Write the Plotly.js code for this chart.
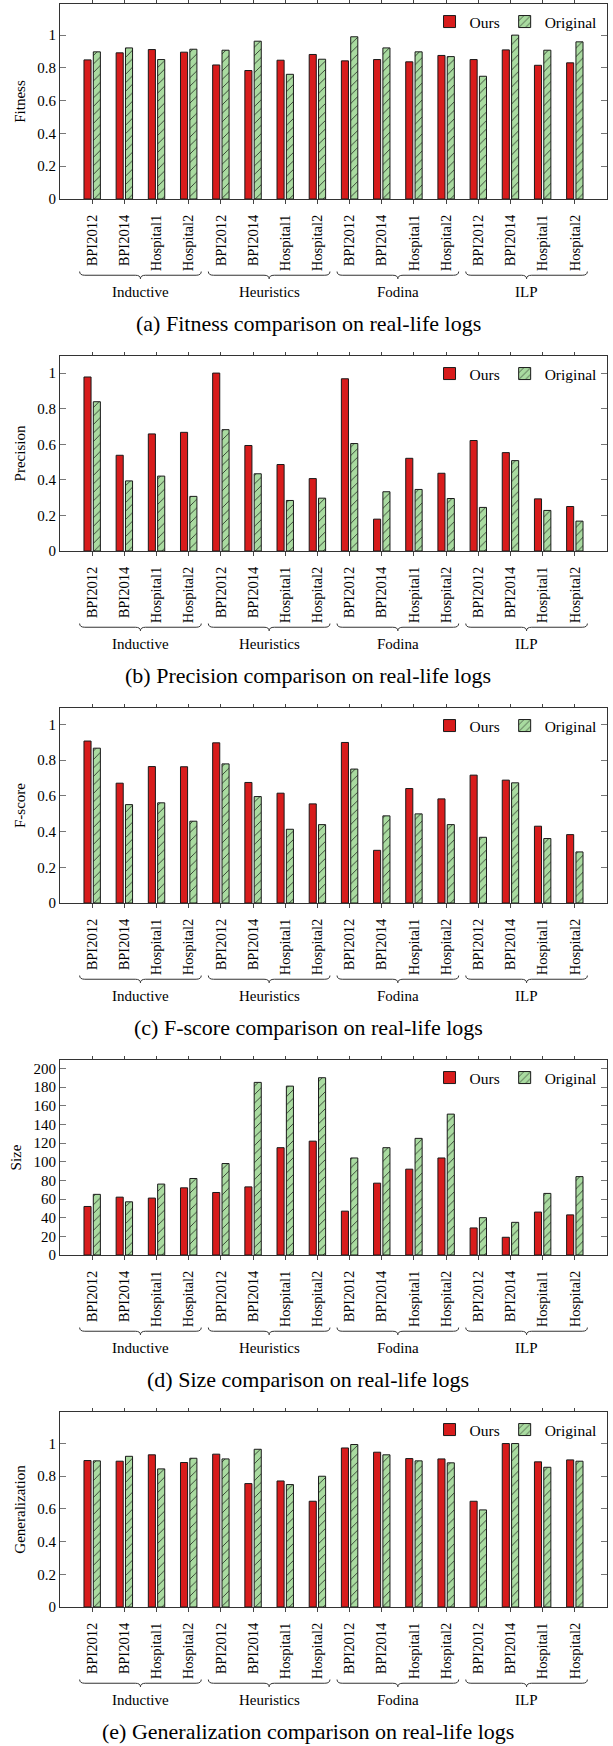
<!DOCTYPE html>
<html><head><meta charset="utf-8">
<script src="https://cdn.plot.ly/plotly-3.0.1.min.js"></script>
<style>
html,body{margin:0;padding:0;width:613px;height:1746px;overflow:hidden;background:#fff}
.p{position:absolute;left:0;width:613px;height:352px}
</style></head>
<body>
<div id="p0" class="p" style="top:0px"></div>
<div id="p1" class="p" style="top:352px"></div>
<div id="p2" class="p" style="top:704px"></div>
<div id="p3" class="p" style="top:1056px"></div>
<div id="p4" class="p" style="top:1408px"></div>
<script>
const groups = ['Inductive', 'Heuristics', 'Fodina', 'ILP'];
const logs = ['BPI2012', 'BPI2014', 'Hospital1', 'Hospital2'];
const seriesNames = ['Ours', 'Original'];

const fitnessOurs     = [0.849, 0.892, 0.912, 0.896,  0.818, 0.784, 0.847, 0.882,  0.843, 0.851, 0.837, 0.876,  0.851, 0.910, 0.816, 0.831];
const fitnessOriginal = [0.898, 0.922, 0.851, 0.914,  0.908, 0.963, 0.761, 0.853,  0.990, 0.922, 0.898, 0.869,  0.749, 1.000, 0.908, 0.959];

const precisionOurs     = [0.978, 0.538, 0.658, 0.667,  1.000, 0.593, 0.486, 0.407,  0.968, 0.179, 0.521, 0.437,  0.621, 0.553, 0.293, 0.250];
const precisionOriginal = [0.839, 0.394, 0.421, 0.307,  0.682, 0.434, 0.284, 0.297,  0.604, 0.333, 0.346, 0.295,  0.245, 0.508, 0.228, 0.168];

const fscoreOurs     = [0.907, 0.671, 0.764, 0.763,  0.897, 0.675, 0.615, 0.555,  0.899, 0.295, 0.641, 0.583,  0.716, 0.688, 0.430, 0.383];
const fscoreOriginal = [0.867, 0.551, 0.561, 0.458,  0.779, 0.596, 0.413, 0.439,  0.750, 0.488, 0.499, 0.439,  0.368, 0.673, 0.361, 0.286];

const sizeOurs     = [52, 62, 61, 72,  67, 73, 115, 122,  47, 77, 92, 104,  29, 19, 46, 43];
const sizeOriginal = [65, 57, 76, 82,  98, 185, 181, 190,  104, 115, 125, 151,  40, 35, 66, 84];

const generalizationOurs     = [0.896, 0.892, 0.931, 0.884,  0.935, 0.755, 0.771, 0.647,  0.973, 0.947, 0.908, 0.906,  0.647, 1.000, 0.888, 0.900];
const generalizationOriginal = [0.894, 0.922, 0.845, 0.910,  0.906, 0.965, 0.749, 0.800,  0.994, 0.931, 0.894, 0.882,  0.594, 1.000, 0.855, 0.892];

const panels = [
  {id: 'p0', ytitle: 'Fitness', caption: '(a) Fitness comparison on real-life logs', ours: fitnessOurs, orig: fitnessOriginal, ymax: 1.19, dtick: 0.2},
  {id: 'p1', ytitle: 'Precision', caption: '(b) Precision comparison on real-life logs', ours: precisionOurs, orig: precisionOriginal, ymax: 1.096, dtick: 0.2},
  {id: 'p2', ytitle: 'F-score', caption: '(c) F-score comparison on real-life logs', ours: fscoreOurs, orig: fscoreOriginal, ymax: 1.092, dtick: 0.2},
  {id: 'p3', ytitle: 'Size', caption: '(d) Size comparison on real-life logs', ours: sizeOurs, orig: sizeOriginal, ymax: 209, dtick: 20},
  {id: 'p4', ytitle: 'Generalization', caption: '(e) Generalization comparison on real-life logs', ours: generalizationOurs, orig: generalizationOriginal, ymax: 1.193, dtick: 0.2}
];

const FONT = '"Liberation Serif", "Times New Roman", Times, serif';
const RED = '#d81c1c';
const GREEN = '#a9dba0';
const xs = groups.flatMap((g, gi) => logs.map((l, li) => gi * logs.length + li));
const tickText = groups.flatMap(() => logs);

function braceShapes() {
  const shapes = [];
  const yTop = -0.372, yMid = -0.391, yTip = -0.409, d = 0.16, hw = 1.89;
  groups.forEach((g, gi) => {
    const c = gi * logs.length + (logs.length - 1) / 2;
    const x0 = c - hw, x1 = c + hw;
    shapes.push({
      type: 'path', xref: 'x', yref: 'paper',
      path: `M ${x0},${yTop} Q ${x0},${yMid} ${x0 + d},${yMid} L ${c - d},${yMid} Q ${c},${yMid} ${c},${yTip} Q ${c},${yMid} ${c + d},${yMid} L ${x1 - d},${yMid} Q ${x1},${yMid} ${x1},${yTop}`,
      line: {color: '#333', width: 1}
    });
  });
  return shapes;
}

function groupAnnotations(caption) {
  const anns = groups.map((g, gi) => ({
    text: g, xref: 'x', yref: 'paper', x: gi * logs.length + (logs.length - 1) / 2, y: -0.478,
    showarrow: false, xanchor: 'center', yanchor: 'middle', font: {family: FONT, size: 15, color: '#000'}
  }));
  anns.push({
    text: caption, xref: 'paper', yref: 'paper', x: 0.454, y: -0.641,
    showarrow: false, xanchor: 'center', yanchor: 'middle', font: {family: FONT, size: 22, color: '#000'}
  });
  return anns;
}

panels.forEach(p => {
  const traces = [
    {type: 'bar', name: seriesNames[0], x: xs, y: p.ours,
     marker: {color: RED, line: {color: '#1a1a1a', width: 1}}},
    {type: 'bar', name: seriesNames[1], x: xs, y: p.orig,
     marker: {color: GREEN, line: {color: '#1a1a1a', width: 1},
              pattern: {shape: '/', fgcolor: '#111', bgcolor: GREEN, fillmode: 'replace', size: 6, solidity: 0.12}}}
  ];
  const layout = {
    width: 613, height: 352,
    margin: {l: 60, r: 6, t: 4, b: 153},
    paper_bgcolor: '#fff', plot_bgcolor: '#fff',
    font: {family: FONT, size: 14, color: '#000'},
    barmode: 'group', bargap: 0.42, bargroupgap: 0.24,
    showlegend: true,
    legend: {orientation: 'h', x: 0.99, xanchor: 'right', y: 0.995, yanchor: 'top',
             bgcolor: 'rgba(0,0,0,0)', font: {family: FONT, size: 15.5, color: '#000'},
             itemwidth: 30, traceorder: 'normal'},
    xaxis: {
      range: [-1, 16], tickmode: 'array', tickvals: xs, ticktext: tickText,
      tickangle: -90, ticks: 'outside', ticklen: 4, tickcolor: '#444', tickwidth: 1,
      ticklabelstandoff: 5,
      showline: true, linecolor: '#333', linewidth: 1, mirror: 'ticks',
      showgrid: false, zeroline: false, tickfont: {family: FONT, size: 14.5, color: '#000'}
    },
    yaxis: {
      range: [0, p.ymax], dtick: p.dtick, tick0: 0, ticks: 'inside', ticklen: 6, tickcolor: '#777', tickwidth: 1,
      showline: true, linecolor: '#333', linewidth: 1, mirror: 'ticks',
      showgrid: false, zeroline: false, tickfont: {family: FONT, size: 15, color: '#000'},
      title: {text: p.ytitle, font: {family: FONT, size: 15, color: '#000'}, standoff: 8}
    },
    shapes: braceShapes(),
    annotations: groupAnnotations(p.caption)
  };
  Plotly.newPlot(p.id, traces, layout, {staticPlot: true, displayModeBar: false});
});
</script>
</body></html>
